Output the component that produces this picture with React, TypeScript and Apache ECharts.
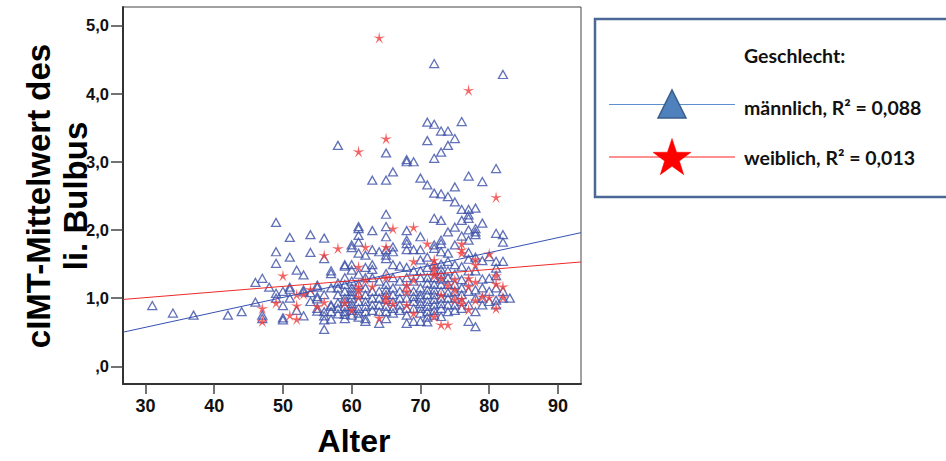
import React, { useEffect, useRef } from "react";
import * as echarts from "echarts";

// ---- data ----
const xTicks = [30, 40, 50, 60, 70, 80, 90];
const yTicks = [0, 1, 2, 3, 4, 5];
const xRange = [26.74, 93.35];
const yRange = [-0.26, 5.27];

// male (triangles): [age, cIMT values]
const maleColumns: [number, number[]][] = [
  [31, [0.89]],
  [34, [0.78]],
  [37, [0.75]],
  [42, [0.75]],
  [44, [0.8]],
  [46, [1.23, 0.94]],
  [47, [1.29, 0.75, 0.7]],
  [48, [1.16]],
  [49, [2.11, 1.68, 1.51, 1.07, 1.0]],
  [50, [1.1, 0.89, 0.71, 0.68]],
  [51, [1.89, 1.6, 1.16, 1.13, 1.0]],
  [52, [1.41, 0.82]],
  [53, [1.34, 1.12, 1.09, 0.74]],
  [54, [1.93, 1.67, 1.08, 0.95]],
  [55, [1.19, 1.16, 1.02, 0.99, 0.85, 0.81]],
  [56, [1.88, 1.58, 1.05, 0.8, 0.74, 0.68, 0.54]],
  [57, [1.4, 1.36, 1.15, 0.9, 0.88, 0.8, 0.69]],
  [58, [3.24, 1.22, 1.15, 1.05, 0.93, 0.85, 0.77]],
  [59, [1.49, 1.47, 1.3, 1.2, 1.1, 1.0, 0.95, 0.88, 0.8, 0.76, 0.7]],
  [60, [1.78, 1.74, 1.49, 1.41, 1.25, 1.15, 1.1, 1.05, 1.0, 0.92, 0.87, 0.82, 0.75]],
  [61, [2.05, 2.02, 1.92, 1.82, 1.66, 1.35, 1.2, 1.05, 0.95, 0.85, 0.78, 0.72]],
  [62, [1.63, 1.45, 1.3, 1.15, 1.05, 0.95, 0.88, 0.8, 0.7, 0.66]],
  [63, [2.73, 1.99, 1.71, 1.49, 1.42, 1.3, 1.1, 1.0, 0.9, 0.82]],
  [64, [1.68, 1.25, 1.1, 1.0, 0.9, 0.8, 0.63]],
  [65, [3.13, 2.73, 2.23, 2.05, 1.9, 1.71, 1.63, 1.58, 1.36, 1.2, 1.12, 1.05, 0.98, 0.88, 0.8, 0.7]],
  [66, [2.85, 1.75, 1.68, 1.49, 1.3, 1.15, 1.05, 0.95, 0.85, 0.78]],
  [67, [1.47, 1.25, 1.1, 1.0, 0.9, 0.82]],
  [68, [3.03, 3.0, 1.99, 1.85, 1.8, 1.71, 1.45, 1.3, 1.15, 1.0, 0.85, 0.75, 0.63]],
  [69, [3.0, 1.71, 1.4, 1.25, 1.1, 1.02, 0.95, 0.85, 0.66]],
  [70, [2.76, 1.9, 1.71, 1.56, 1.4, 1.3, 1.15, 1.05, 1.0, 0.92, 0.85, 0.78, 0.66]],
  [71, [3.58, 3.31, 2.66, 1.6, 1.45, 1.3, 1.22, 1.12, 1.05, 0.95, 0.88, 0.8, 0.72, 0.65]],
  [72, [4.44, 3.55, 3.05, 2.54, 2.17, 1.78, 1.73, 1.5, 1.4, 1.3, 1.2, 1.12, 1.05, 0.98, 0.9, 0.82, 0.75]],
  [73, [3.45, 3.14, 2.53, 2.14, 1.85, 1.8, 1.68, 1.5, 1.42, 1.35, 1.28, 1.2, 1.1, 1.0, 0.92, 0.85, 0.73]],
  [74, [3.45, 3.24, 2.49, 1.97, 1.66, 1.54, 1.4, 1.3, 1.2, 1.08, 1.0, 0.9, 0.8]],
  [75, [3.34, 2.63, 2.41, 2.04, 1.78, 1.49, 1.35, 1.2, 1.1, 1.0, 0.9, 0.82]],
  [76, [3.59, 2.3, 2.14, 1.91, 1.46, 1.27, 1.15, 1.05, 0.95, 0.85]],
  [77, [2.79, 2.3, 2.22, 2.17, 2.0, 1.85, 1.67, 1.57, 1.4, 1.25, 1.1, 0.9, 0.66]],
  [78, [2.32, 2.02, 1.97, 1.93, 1.6, 1.4, 1.12, 1.0, 0.8, 0.58]],
  [79, [2.71, 2.1, 1.55, 1.28, 1.15, 1.0, 0.9]],
  [80, [1.61, 1.29, 1.1, 0.95]],
  [81, [2.9, 1.95, 1.54, 1.44, 1.33, 1.15, 0.97, 0.9]],
  [82, [4.28, 1.93, 1.82, 1.54, 1.1, 1.0]],
  [83, [1.0]],
];

// female (stars): [age, cIMT values]
const femaleColumns: [number, number[]][] = [
  [47, [0.85, 0.66]],
  [49, [0.93]],
  [50, [1.33]],
  [51, [0.75]],
  [52, [1.05, 0.89, 0.69]],
  [53, [1.06]],
  [54, [1.13]],
  [55, [0.88]],
  [56, [1.63, 0.94]],
  [58, [1.73]],
  [59, [0.93]],
  [60, [0.83]],
  [61, [3.15, 1.46, 1.17, 1.12, 1.02]],
  [62, [1.75, 1.27]],
  [63, [1.17]],
  [64, [4.82, 0.71]],
  [65, [3.34, 1.75, 1.31, 1.02, 0.95]],
  [66, [2.02, 0.92]],
  [68, [1.19, 1.1, 0.9]],
  [69, [2.04, 1.54, 1.27, 0.78]],
  [71, [1.8]],
  [72, [1.56, 1.49, 1.41, 1.33, 0.73]],
  [73, [1.3, 1.05, 0.61]],
  [74, [1.19, 0.61]],
  [75, [1.27, 1.12, 0.98]],
  [76, [1.8, 1.71, 1.66, 0.99, 0.92]],
  [77, [4.05, 1.29, 1.17, 0.83]],
  [78, [1.57, 1.49, 1.24, 0.97]],
  [79, [1.02]],
  [80, [1.65, 1.01]],
  [81, [2.48, 1.33, 1.21, 0.85]],
  [82, [1.17, 1.01]],
];

// fit lines (endpoints at the plot edges)
const maleFit: [number, number][] = [
  [26.74, 0.5],
  [93.35, 1.96],
];
const femaleFit: [number, number][] = [
  [26.74, 0.98],
  [93.35, 1.53],
];

const legendTitle = "Geschlecht:";
const legendMale = "männlich, R² = 0,088";
const legendFemale = "weiblich, R² = 0,013";
const yTitle = "cIMT-Mittelwert des\nli. Bulbus";
const xTitle = "Alter";

const expand = (cols: [number, number[]][]) =>
  cols.flatMap(([a, vs]) => vs.map((v) => [a, v]));

function starPoints(cx: number, cy: number, R: number, r: number) {
  const pts: number[][] = [];
  for (let i = 0; i < 10; i++) {
    const ang = -Math.PI / 2 + (i * Math.PI) / 5;
    const rad = i % 2 === 0 ? R : r;
    pts.push([cx + rad * Math.cos(ang), cy + rad * Math.sin(ang)]);
  }
  return pts;
}

function starPath(R: number, r: number) {
  const pts = starPoints(0, 0, R, r);
  return "path://" + pts.map((p, i) => (i === 0 ? "M" : "L") + p[0].toFixed(2) + " " + p[1].toFixed(2)).join(" ") + " Z";
}

export default function App() {
  const ref = useRef<HTMLDivElement>(null);
  useEffect(() => {
    if (!ref.current) return;
    const chart = echarts.init(ref.current, undefined, { renderer: "svg" });
    const blue = "#3b4fa6";
    const red = "#f03c3c";
    const fmt = (v: number) => (v === 0 ? ",0" : v.toFixed(1).replace(".", ","));
    const legendFont = {
      fontFamily: "Lato, sans-serif",
      fontWeight: "bold",
      fontSize: 19.5,
      fill: "#111",
      align: "left",
      verticalAlign: "middle",
    };
    chart.setOption({
      animation: false,
      grid: {
        left: 123,
        top: 7,
        right: 946 - 581,
        bottom: 461 - 384,
        show: true,
        borderColor: "#444",
        borderWidth: 1,
        backgroundColor: "#fff",
      },
      xAxis: {
        type: "value",
        min: xRange[0],
        max: xRange[1],
        splitLine: { show: false },
        axisLine: { show: true, onZero: false, lineStyle: { color: "#333", width: 2 } },
        axisTick: { show: true, customValues: xTicks, length: 10, lineStyle: { color: "#444", width: 1.5 } },
        axisLabel: {
          customValues: xTicks,
          margin: 13,
          color: "#111",
          fontFamily: "Liberation Sans, Arial, sans-serif",
          fontWeight: "bold",
          fontSize: 18,
        },
      },
      yAxis: {
        type: "value",
        min: yRange[0],
        max: yRange[1],
        splitLine: { show: false },
        axisLine: { show: true, onZero: false, lineStyle: { color: "#333", width: 2 } },
        axisTick: { show: true, customValues: yTicks, length: 12, lineStyle: { color: "#444", width: 1.5 } },
        axisLabel: {
          customValues: yTicks,
          margin: 14,
          formatter: fmt,
          color: "#111",
          fontFamily: "Liberation Sans, Arial, sans-serif",
          fontWeight: "bold",
          fontSize: 16.5,
        },
      },
      series: [
        {
          type: "scatter",
          data: expand(maleColumns),
          symbol: "triangle",
          symbolSize: [9, 8],
          itemStyle: { color: "rgba(255,255,255,0)", borderColor: blue, borderWidth: 1.3 },
          z: 3,
        },
        {
          type: "scatter",
          data: expand(femaleColumns),
          symbol: starPath(10, 2.6),
          symbolSize: 12,
          itemStyle: { color: red },
          z: 4,
        },
        {
          type: "line",
          data: maleFit,
          symbol: "none",
          lineStyle: { color: "#3551b0", width: 1 },
          z: 5,
        },
        {
          type: "line",
          data: femaleFit,
          symbol: "none",
          lineStyle: { color: "#ee2a2a", width: 1 },
          z: 5,
        },
      ],
      graphic: [
        {
          type: "text",
          x: 57,
          y: 196,
          rotation: Math.PI / 2,
          style: {
            text: yTitle,
            fontFamily: "Liberation Sans, Arial, sans-serif",
            fontWeight: "bold",
            fontSize: 33,
            lineHeight: 37,
            fill: "#000",
            align: "center",
            verticalAlign: "middle",
          },
        },
        {
          type: "text",
          x: 354,
          y: 441,
          style: {
            text: xTitle,
            fontFamily: "Liberation Sans, Arial, sans-serif",
            fontWeight: "bold",
            fontSize: 32,
            fill: "#000",
            align: "center",
            verticalAlign: "middle",
          },
        },
        {
          type: "rect",
          shape: { x: 595, y: 19, width: 360, height: 178 },
          style: { fill: "#fff", stroke: "#4a6795", lineWidth: 2.5 },
        },
        {
          type: "line",
          shape: { x1: 609, y1: 104.5, x2: 735, y2: 104.5 },
          style: { stroke: "#5b8fd0", lineWidth: 1 },
        },
        {
          type: "line",
          shape: { x1: 609, y1: 157, x2: 735, y2: 157 },
          style: { stroke: "#ff2020", lineWidth: 1 },
        },
        {
          type: "polygon",
          shape: { points: [[658, 118], [672, 90], [686, 118]] },
          style: { fill: "#4f81bd", stroke: "#385d8a", lineWidth: 1.5 },
        },
        {
          type: "polygon",
          shape: { points: starPoints(672, 158.5, 20, 7.8) },
          style: { fill: "#ff0000", stroke: "#ff0000", lineWidth: 0.5 },
        },
        { type: "text", x: 744, y: 55, style: { text: legendTitle, ...legendFont } },
        { type: "text", x: 744, y: 107, style: { text: legendMale, ...legendFont } },
        { type: "text", x: 744, y: 157, style: { text: legendFemale, ...legendFont } },
      ],
    });
    return () => chart.dispose();
  }, []);
  return (
    <div
      ref={ref}
      style={{ position: "fixed", left: 0, top: 0, width: 946, height: 461, background: "#fff" }}
    />
  );
}
